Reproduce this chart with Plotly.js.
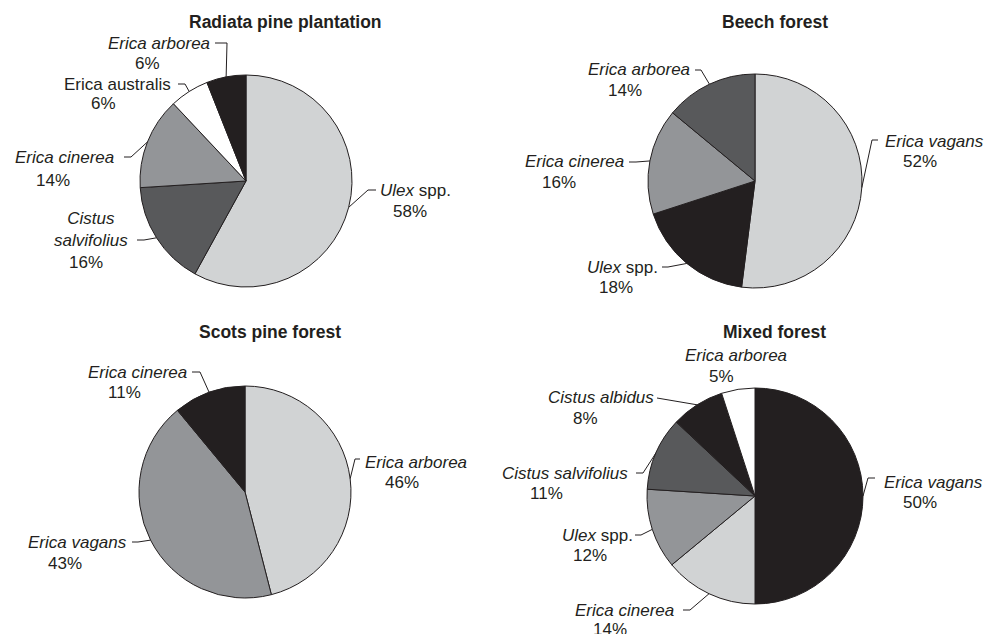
<!DOCTYPE html>
<html><head><meta charset="utf-8">
<script src="https://cdn.plot.ly/plotly-3.0.1.min.js"></script>
<style>html,body{margin:0;padding:0;background:#fff}#chart{width:985px;height:634px}</style>
</head><body><div id="chart"></div>
<script>
// ---------- DATA ----------
const titles = ["Radiata pine plantation", "Beech forest", "Scots pine forest", "Mixed forest"];

const radiataLabels = ["Ulex spp.", "Cistus salvifolius", "Erica cinerea", "Erica australis", "Erica arborea"];
const radiataValues = [58, 16, 14, 6, 6];

const beechLabels = ["Erica vagans", "Ulex spp.", "Erica cinerea", "Erica arborea"];
const beechValues = [52, 18, 16, 14];

const scotsLabels = ["Erica arborea", "Erica vagans", "Erica cinerea"];
const scotsValues = [46, 43, 11];

const mixedLabels = ["Erica vagans", "Erica cinerea", "Ulex spp.", "Cistus salvifolius", "Cistus albidus", "Erica arborea"];
const mixedValues = [50, 14, 12, 11, 8, 5];

// ---------- STYLE / LAYOUT ----------
const C = {light: "#d1d3d4", mid: "#939598", dark: "#58595b", black: "#231f20", white: "#ffffff"};
const radiataColors = [C.light, C.dark, C.mid, C.white, C.black];
const beechColors = [C.light, C.black, C.mid, C.dark];
const scotsColors = [C.light, C.mid, C.black];
const mixedColors = [C.black, C.light, C.mid, C.dark, C.black, C.white];

const W = 985, H = 634;
const FONT = "'Liberation Sans', Arial, Helvetica, sans-serif";

// pie geometry (px): center and radius
const geom = [
  {cx: 246, cy: 181, r: 106},
  {cx: 755, cy: 181, r: 107},
  {cx: 245, cy: 492, r: 106},
  {cx: 755, cy: 496, r: 108}
];
const titlePos = [[285, 22], [775, 22], [270, 332], [774, 332]];

// label placement (px): name center, percent center, leader start, elbow x
const labelPos = [
  [ {n: [415, 190], p: [410, 212], lx: 376, ly: 190, ex: 368},
    {n: [91, 230],  p: [86, 262],  lx: 137, ly: 240, ex: 144, wrap: true},
    {n: [64, 157],  p: [53, 180],  lx: 124, ly: 157, ex: 131},
    {n: [117, 84],  p: [103, 104], lx: 178, ly: 84,  ex: 185},
    {n: [159, 43],  p: [147, 63],  lx: 215, ly: 43,  ex: 227} ],
  [ {n: [934, 142], p: [920, 162], lx: 878, ly: 140, ex: 872},
    {n: [622, 267], p: [616, 287], lx: 662, ly: 267, ex: 668},
    {n: [574, 162], p: [559, 182], lx: 629, ly: 162, ex: 636},
    {n: [639, 70],  p: [625, 90],  lx: 695, ly: 70,  ex: 701} ],
  [ {n: [416, 462], p: [402, 482], lx: 360, ly: 459, ex: 355},
    {n: [77, 542],  p: [65, 563],  lx: 132, ly: 542, ex: 138},
    {n: [137, 372], p: [124, 392], lx: 192, ly: 372, ex: 200} ],
  [ {n: [933, 482], p: [920, 502], lx: 875, ly: 478, ex: 868},
    {n: [624, 610], p: [610, 629], lx: 683, ly: 610, ex: 690},
    {n: [597, 535], p: [590, 555], lx: 635, ly: 535, ex: 641},
    {n: [565, 473], p: [546, 493], lx: 636, ly: 473, ex: 643},
    {n: [601, 397], p: [585, 418], lx: 657, ly: 398, ex: null},
    {n: [736, 355], p: [721, 376], lx: null} ]
];

const pies = [
  {labels: radiataLabels, values: radiataValues, colors: radiataColors},
  {labels: beechLabels, values: beechValues, colors: beechColors},
  {labels: scotsLabels, values: scotsValues, colors: scotsColors},
  {labels: mixedLabels, values: mixedValues, colors: mixedColors}
];

function fmtName(name, wrap) {
  if (name === "Erica australis") return name;
  if (name.endsWith(" spp.")) return "<i>" + name.replace(" spp.", "") + "</i> spp.";
  if (wrap) return "<i>" + name.replace(" ", "<br>") + "</i>";
  return "<i>" + name + "</i>";
}
const px = x => x / W;
const py = y => 1 - y / H;
const txtFont = {family: FONT, size: 17, color: "#231f20"};

const traces = [], annotations = [], shapes = [];
pies.forEach((p, i) => {
  const g = geom[i];
  traces.push({
    type: "pie", labels: p.labels, values: p.values, sort: false, direction: "clockwise",
    rotation: 0, textinfo: "none", hoverinfo: "label+percent",
    marker: {colors: p.colors, line: {color: C.black, width: 1}},
    domain: {x: [px(g.cx - g.r), px(g.cx + g.r)], y: [py(g.cy + g.r), py(g.cy - g.r)]}
  });
  annotations.push({
    xref: "paper", yref: "paper", x: px(titlePos[i][0]), y: py(titlePos[i][1]),
    text: "<b>" + titles[i] + "</b>", showarrow: false, xanchor: "center", yanchor: "middle",
    font: {family: FONT, size: 17.5, color: "#231f20"}
  });
  const total = p.values.reduce((a, b) => a + b, 0);
  let cum = 0;
  p.values.forEach((v, j) => {
    const mid = (cum + v / 2) / total * 2 * Math.PI;
    cum += v;
    const pct = Math.round(v / total * 100) + "%";
    const L = labelPos[i][j];
    annotations.push({
      xref: "paper", yref: "paper", x: px(L.n[0]), y: py(L.n[1]),
      text: fmtName(p.labels[j], L.wrap), showarrow: false,
      xanchor: "center", yanchor: "middle", align: "center", font: txtFont
    });
    annotations.push({
      xref: "paper", yref: "paper", x: px(L.p[0]), y: py(L.p[1]),
      text: pct, showarrow: false, xanchor: "center", yanchor: "middle", font: txtFont
    });
    if (L.lx !== null && L.lx !== undefined) {
      const exX = g.cx + g.r * Math.sin(mid), exY = g.cy - g.r * Math.cos(mid);
      let path = "M" + px(L.lx) + "," + py(L.ly);
      if (L.ex !== null) path += " L" + px(L.ex) + "," + py(L.ly);
      path += " L" + px(exX) + "," + py(exY);
      shapes.push({type: "path", xref: "paper", yref: "paper", path: path,
        line: {color: C.black, width: 1}});
    }
  });
});

Plotly.newPlot("chart", traces, {
  width: W, height: H, margin: {l: 0, r: 0, t: 0, b: 0},
  paper_bgcolor: "#fff", plot_bgcolor: "#fff", showlegend: false,
  annotations: annotations, shapes: shapes
}, {staticPlot: true});
</script></body></html>
